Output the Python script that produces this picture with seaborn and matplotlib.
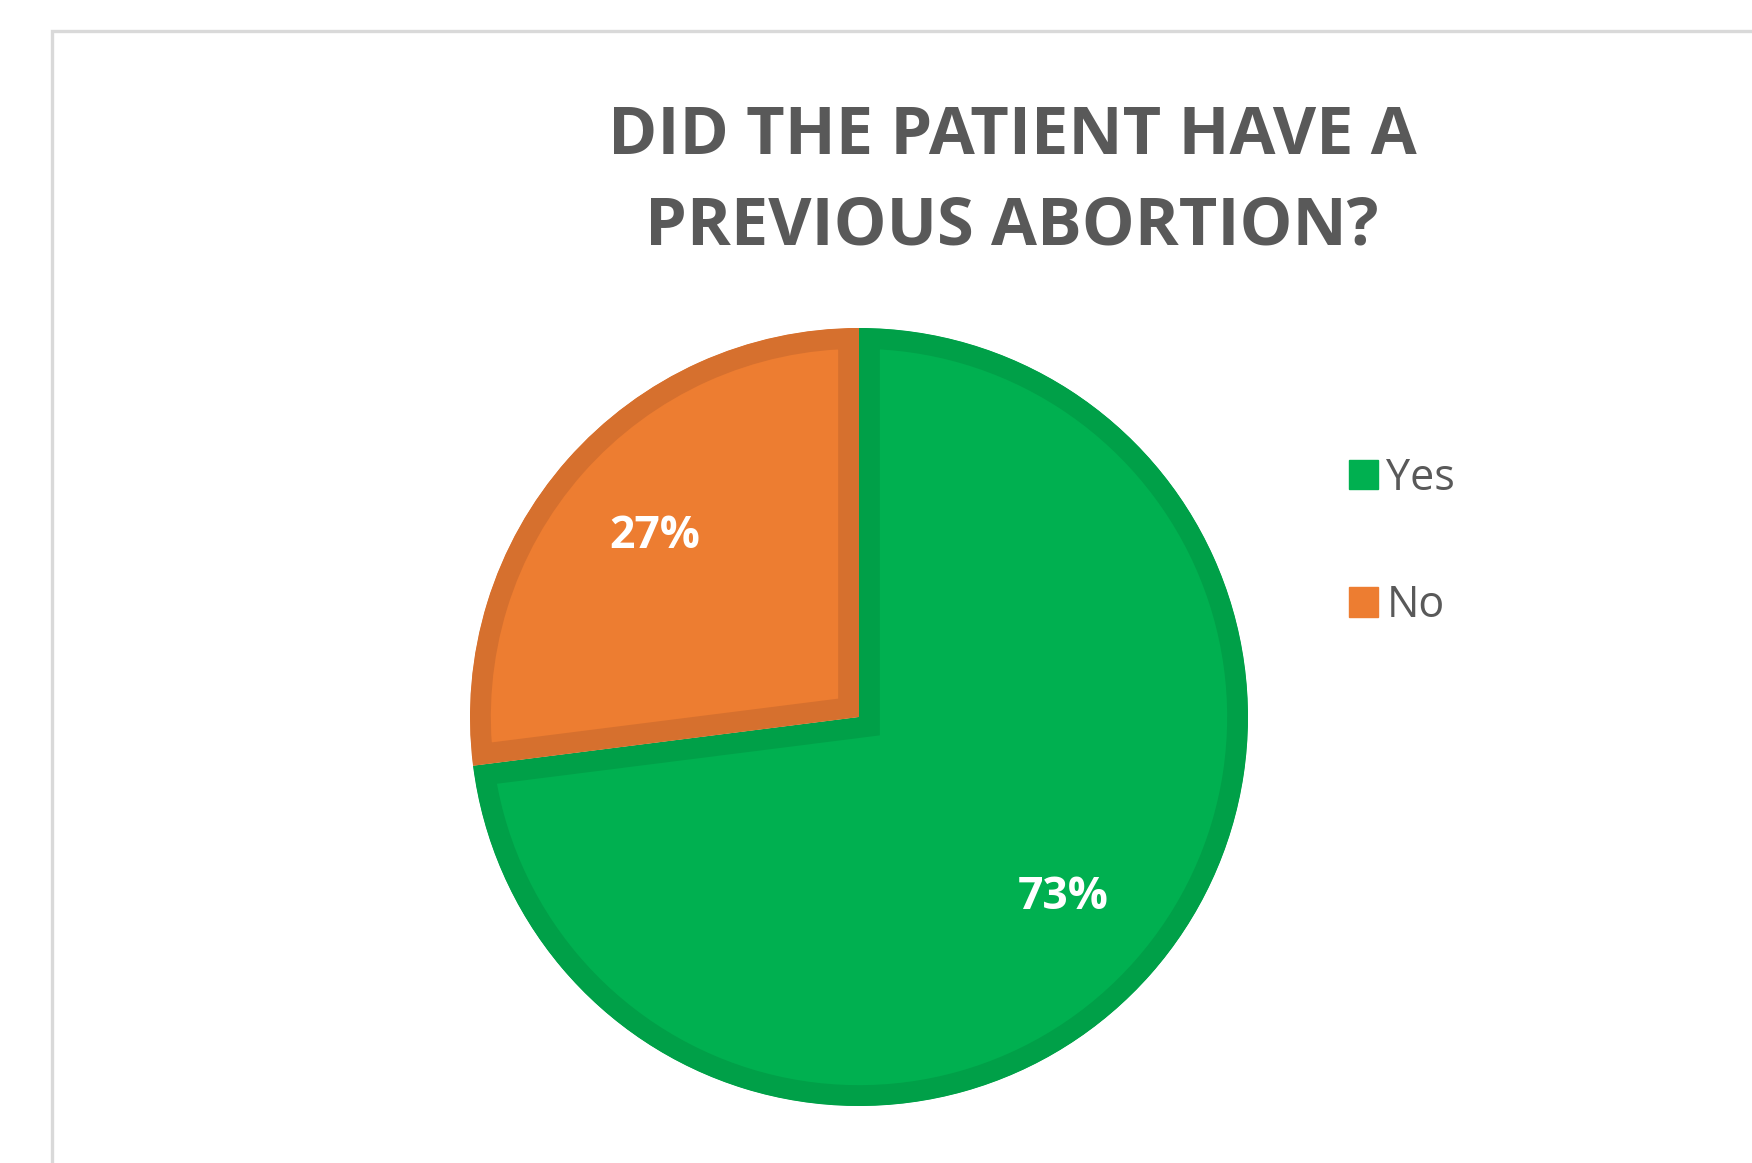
import matplotlib
matplotlib.use("Agg")
import matplotlib.pyplot as plt
import seaborn as sns
from matplotlib.lines import Line2D
from matplotlib.patches import Patch

categories = ["Yes", "No"]
values = [73, 27]
fill_colors = ["#00B050", "#ED7D31"]
edge_colors = ["#00A048", "#D6702E"]
title_text = "DID THE PATIENT HAVE A\nPREVIOUS ABORTION?"

sns.set_theme(style="white")
plt.rcParams['font.family'] = ['Open Sans', 'DejaVu Sans']

W, H = 1752, 1163
dpi = 100
fig = plt.figure(figsize=(W / dpi, H / dpi), dpi=dpi)
fig.patch.set_facecolor("white")

# outer frame (only left and top edges visible)
fx, fy = 52 / W, 1 - 31 / H
fig.add_artist(Line2D([fx, fx, 1.01], [-0.01, fy, fy], transform=fig.transFigure,
                      color="#D9D9D9", lw=2.4, solid_joinstyle="miter"))

cx, cy, r = 859, 717, 389
ax = fig.add_axes([(cx - r) / W, (H - cy - r) / H, 2 * r / W, 2 * r / H])
wedges, texts, autotexts = ax.pie(
    values, colors=fill_colors, startangle=90, counterclock=False,
    autopct=lambda p: f"{p:.0f}%", pctdistance=0.70, radius=1,
    wedgeprops=dict(linewidth=30, joinstyle="miter"),
    textprops=dict(color="white", fontsize=32, fontweight="bold"))
for w, ec in zip(wedges, edge_colors):
    w.set_edgecolor(ec)
    w.set_clip_path(w)
    w.set_clip_on(True)
ax.set_xlim(-1, 1)
ax.set_ylim(-1, 1)
ax.set_aspect("equal")
ax.axis("off")

fig.text(1012 / W, 1 - 182 / H, title_text, ha="center", va="center",
         fontsize=48, fontweight="bold", color="#595959", linespacing=1.47)

handles = [Patch(facecolor=c, edgecolor=c) for c in fill_colors]
fig.legend(handles, categories, loc="upper left", bbox_to_anchor=(1349 / W, 1 - 456 / H),
           frameon=False, fontsize=31, labelcolor="#595959", handlelength=0.67,
           handleheight=0.67, handletextpad=0.2, labelspacing=1.93,
           borderpad=0, borderaxespad=0)

fig.savefig("out.png", dpi=dpi)
